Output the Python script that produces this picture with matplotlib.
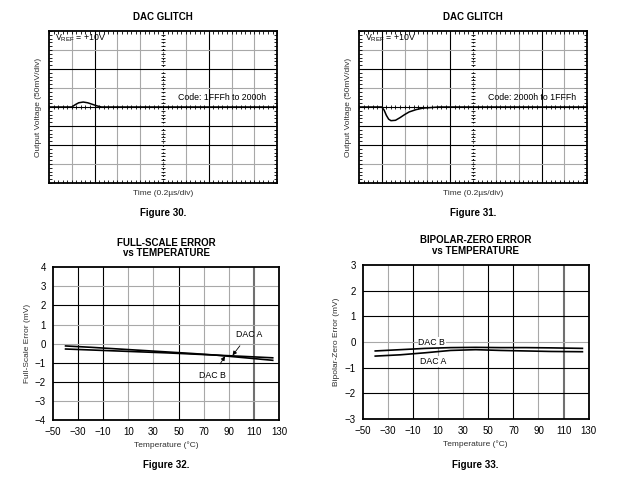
import numpy as np
import matplotlib
matplotlib.use("Agg")
import matplotlib.pyplot as plt

plt.rcParams["font.family"] = ["Liberation Sans", "DejaVu Sans"]
plt.rcParams["mathtext.fontset"] = "custom"
plt.rcParams["mathtext.rm"] = "Liberation Sans"
plt.rcParams["axes.unicode_minus"] = True

# --- glitch traces (time in us, voltage in mV) ---
t_fig30 = [0.0, 0.20, 0.23, 0.26, 0.30, 0.34, 0.38, 0.42, 0.46, 2.0]
v_fig30 = [0, 0, 6, 11, 13, 11, 7, 3, 0, 0]

t_fig31 = [0.0, 0.20, 0.22, 0.24, 0.26, 0.28, 0.32, 0.36, 0.40, 0.44, 0.50, 0.56, 0.70, 2.0]
v_fig31 = [0, 0, -8, -22, -32, -36, -35, -28, -20, -13, -7, -3, 0, 0]

# --- temperature curves ---
temp = [-40, -20, 0, 20, 40, 60, 80, 100, 125]
fs_dac_a = [-0.28, -0.33, -0.38, -0.43, -0.48, -0.54, -0.60, -0.66, -0.74]
fs_dac_b = [-0.12, -0.19, -0.27, -0.35, -0.43, -0.51, -0.60, -0.72, -0.87]
bz_dac_a = [-0.55, -0.50, -0.42, -0.33, -0.30, -0.33, -0.35, -0.37, -0.38]
bz_dac_b = [-0.35, -0.30, -0.25, -0.22, -0.21, -0.22, -0.22, -0.23, -0.25]

temp_ticks = list(range(-50, 131, 20))

TXT = "#303030"
GRAY = "#a8a8a8"


def scope(ax, t, v, code, dark_x, dark_y):
    ax.set_xlim(0, 2.0)
    ax.set_ylim(-200, 200)
    # graticule
    for i in range(1, 10):
        if i == 5:
            continue
        ax.axvline(i * 0.2, color="k" if i in dark_x else GRAY, lw=0.8, zorder=1)
    for j in range(1, 8):
        if j == 4:
            continue
        ax.axhline(-200 + j * 50, color="k" if j in dark_y else GRAY, lw=0.8, zorder=1)
    ax.axvline(1.0, color="k", lw=0.8, ls=(0, (1, 2)), zorder=1)
    ax.axhline(0, color="k", lw=0.8, zorder=1)
    minor_x = np.arange(0, 2.0001, 0.04)
    minor_y = np.arange(-200, 200.1, 10)
    ax.plot(minor_x, np.zeros_like(minor_x), ls="none", marker="|", ms=3, mew=0.6, color="k")
    ax.plot(np.ones_like(minor_y), minor_y, ls="none", marker="_", ms=3, mew=0.6, color="k")
    ax.set_xticks([])
    ax.set_yticks([])
    ax.set_xticks(minor_x, minor=True)
    ax.set_yticks(minor_y, minor=True)
    ax.tick_params(which="minor", direction="in", length=2.5, width=0.6,
                   top=True, right=True, labelbottom=False, labelleft=False)
    for s in ax.spines.values():
        s.set_linewidth(1.3)
    ax.plot(t, v, color="k", lw=1.1, zorder=3)
    ax.text(0.05, 180, r"V$_{\mathrm{REF}}$ = +10V", fontsize=6.3, va="center", ha="left")
    ax.text(1.9, 24, code, fontsize=6.3, va="center", ha="right")
    ax.set_title("DAC GLITCH", fontsize=7, fontweight="bold", pad=8)
    ax.set_ylabel("Output Voltage (50mV/div)", fontsize=6, color=TXT, labelpad=5)
    ax.set_xlabel("Time (0.2µs/div)", fontsize=6, color=TXT, labelpad=5)


def tempchart(ax, ylim, dark_x, dark_y, title, ylabel):
    ax.set_xlim(-50, 130)
    ax.set_ylim(-ylim, ylim)
    for x in temp_ticks[1:-1]:
        if x == 110:
            ax.axvline(x, color="#707070", lw=1.5, zorder=1)
        else:
            ax.axvline(x, color="k" if x in dark_x else GRAY, lw=0.8, zorder=1)
    for y in range(-ylim + 1, ylim):
        ax.axhline(y, color="k" if y in dark_y else GRAY, lw=0.8, zorder=1)
    ax.set_xticks(temp_ticks)
    ax.set_yticks(range(-ylim, ylim + 1))
    ax.tick_params(length=0, labelsize=7, pad=5, colors="k")
    for s in ax.spines.values():
        s.set_linewidth(1.3)
    ax.set_title(title, fontsize=7, fontweight="bold", pad=8, linespacing=1.05)
    ax.set_ylabel(ylabel, fontsize=6, color=TXT, labelpad=3)
    ax.set_xlabel("Temperature (°C)", fontsize=6, color=TXT, labelpad=3)


fig = plt.figure(figsize=(6.2, 4.83), dpi=100)

ax1 = fig.add_axes([0.079, 0.621, 0.368, 0.315])
scope(ax1, t_fig30, v_fig30, "Code: 1FFFh to 2000h", [2, 7], [2, 3, 6])
ax2 = fig.add_axes([0.579, 0.621, 0.368, 0.315])
scope(ax2, t_fig31, v_fig31, "Code: 2000h to 1FFFh", [1, 4, 8], [2, 3, 6])

ax3 = fig.add_axes([0.0855, 0.130, 0.3645, 0.317])
tempchart(ax3, 4, [-30, -10, 50], [2, -1, -2], "FULL-SCALE ERROR\nvs TEMPERATURE",
          "Full-Scale Error (mV)")
ax3.plot(temp, fs_dac_a, color="k", lw=1.2, zorder=3)
ax3.plot(temp, fs_dac_b, color="k", lw=1.2, zorder=3)
ax3.annotate("DAC A", xy=(93, -0.61), xytext=(106, 0.5), fontsize=6.3, ha="center", va="center",
             arrowprops=dict(arrowstyle="-|>", color="k", lw=0.6, mutation_scale=6,
                             shrinkA=4, shrinkB=0))
ax3.annotate("DAC B", xy=(87, -0.66), xytext=(77, -1.68), fontsize=6.3, ha="center", va="center",
             arrowprops=dict(arrowstyle="-|>", color="k", lw=0.6, mutation_scale=6,
                             shrinkA=4, shrinkB=0))

ax4 = fig.add_axes([0.585, 0.1325, 0.3645, 0.319])
tempchart(ax4, 3, [-10, 50, 70], [2, 1, -1, -2], "BIPOLAR-ZERO ERROR\nvs TEMPERATURE",
          "Bipolar-Zero Error (mV)")
ax4.plot(temp, bz_dac_a, color="k", lw=1.2, zorder=3)
ax4.plot(temp, bz_dac_b, color="k", lw=1.2, zorder=3)
ax4.text(5, -0.02, "DAC B", fontsize=6.3, ha="center", va="center", zorder=2,
         bbox=dict(facecolor="white", edgecolor="none", pad=0.5))
ax4.text(6, -0.76, "DAC A", fontsize=6.3, ha="center", va="center", zorder=2,
         bbox=dict(facecolor="white", edgecolor="none", pad=0.5))

for ax, cap, y in [(ax1, "Figure 30.", 213), (ax2, "Figure 31.", 213),
                   (ax3, "Figure 32.", 465), (ax4, "Figure 33.", 465)]:
    pos = ax.get_position()
    fig.text(pos.x0 + pos.width / 2, 1 - y / 483, cap, fontsize=7, fontweight="bold",
             ha="center", va="center")

fig.savefig("out.png", dpi=100)
